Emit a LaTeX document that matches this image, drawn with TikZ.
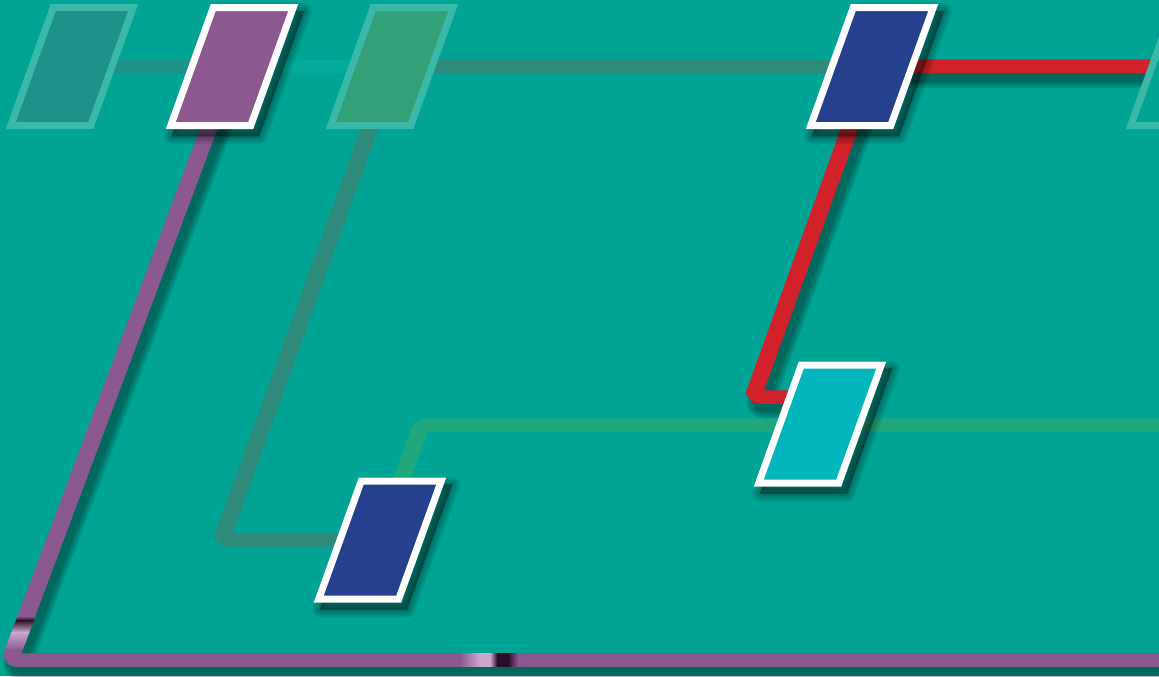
\documentclass[tikz,border=0pt]{standalone}
\usepackage{tikz}
\usetikzlibrary{backgrounds}
\definecolor{seaTeal}{RGB}{0,164,148}
\definecolor{ghostRim}{RGB}{59,185,168}
\definecolor{ghostTeal}{RGB}{30,146,138}
\definecolor{ghostGreen}{RGB}{51,160,121}
\definecolor{plum}{RGB}{139,89,143}
\definecolor{plumLight}{RGB}{204,168,208}
\definecolor{plumDark}{RGB}{40,14,38}
\definecolor{navy}{RGB}{38,64,142}
\definecolor{aqua}{RGB}{0,181,188}
\definecolor{signalR}{RGB}{209,34,43}
\definecolor{leafG}{RGB}{31,167,125}
\definecolor{slateG}{RGB}{46,138,122}
\definecolor{paleTeal}{RGB}{6,170,156}

\begin{document}
\begin{tikzpicture}[x=0.5pt, y=-0.5pt,
  route/.style={line width=6.75pt, rounded corners=3pt},
  rise/.style={line width=8.25pt},
  tubeshade/.style={black, opacity=0.1, rounded corners=3pt,
                    transform canvas={xshift=3pt, yshift=-3.5pt}},
  cardshade/.style={black, fill=black, opacity=0.08, line join=round,
                    transform canvas={xshift=3pt, yshift=-3.5pt}},
  card/.style={rectangle, xslant=0.36, minimum width=40pt, minimum height=59pt,
               inner sep=0pt, line width=3.5pt},
  live/.style={card, draw=white},
  ghost/.style={card, draw=ghostRim}]
  \useasboundingbox (0,0) rectangle (1159,676);
  \clip (0,0) rectangle (1159,676);

  % top row
  \node[ghost, fill=ghostTeal] (gh1) at (72,66.5) {};
  \node[live, fill=plum] (pl) at (232,66.5) {};
  \node[ghost, fill=ghostGreen] (gh2) at (392,66.5) {};
  \node[live, fill=navy] (nv1) at (872,66.5) {};
  \node[ghost, fill=seaTeal] (gh3) at (1192,66.5) {};
  % lower cards
  \node[live, fill=aqua] (aq) at (820,424) {};
  \node[live, fill=navy] (nv2) at (380,540) {};

  % bends and free ends
  \coordinate (plBend) at (10,660);
  \coordinate (plEnd) at (1180,660);
  \coordinate (slBend) at (221.5,540);
  \coordinate (lfBend) at (421.4,425);
  \coordinate (lfEnd) at (1180,425);
  \coordinate (rdBend) at (753,397);

  \begin{scope}[on background layer]
    \fill[seaTeal] (0,0) rectangle (1159,676);
    \draw[route, ghostTeal] (gh1.center) -- (pl.center);
    \draw[route, paleTeal] (pl.center) -- (gh2.center);
    \draw[route, slateG] (gh2.center) -- (nv1.center);
    \draw[route, slateG] (gh2.center) -- (slBend) -- (nv2.center);
    \draw[rise, slateG] (gh2.center) -- (slBend);
    \draw[route, leafG] (nv2.center) -- (lfBend) -- (lfEnd);
    \draw[rise, leafG] (nv2.center) -- (lfBend);
    % soft shadows under the bright routes
    \foreach \w in {8.5pt,10.5pt,12.5pt,14.5pt} {
      \draw[tubeshade, line width=\w] (pl.center) -- (plBend) -- (plEnd);
      \draw[tubeshade, line width=\w] (gh3.center) -- (nv1.center) -- (rdBend) -- (rdBend -| aq.center);
    }
    \draw[route, plum] (pl.center) -- (plBend) -- (plEnd);
    \draw[rise, plum] (pl.center) -- (plBend);
    \draw[route, signalR] (gh3.center) -- (nv1.center) -- (rdBend) -- (rdBend -| aq.center);
    \draw[rise, signalR] (nv1.center) -- (rdBend);
    % glints on the purple tube
    \shade[top color=plum, bottom color=plumDark] (17.5,616) -- (35.5,616) -- (34,620.3) -- (16,620.3) -- cycle;
    \shade[top color=plumDark, bottom color=plumLight] (16,620) -- (34,620) -- (29.5,632.3) -- (11.5,632.3) -- cycle;
    \shade[top color=plumLight, bottom color=plum] (11.5,632) -- (29.5,632) -- (22.8,650) -- (4.8,650) -- cycle;
    \shade[left color=plum, right color=plumLight] (460,653.25) rectangle (480.3,666.75);
    \fill[plumLight] (480,653.25) rectangle (490.3,666.75);
    \shade[left color=plumLight, right color=plumDark] (490,653.25) rectangle (497.3,666.75);
    \fill[plumDark] (497,653.25) rectangle (508.3,666.75);
    \shade[left color=plumDark, right color=plum] (508,653.25) rectangle (518,666.75);
    % soft shadows under the white cards
    \foreach \n in {pl,nv1,aq,nv2}
      \foreach \w in {0pt,2pt,4pt,6pt,8pt}
        \filldraw[cardshade, line width=\w] (\n.north west) -- (\n.north east)
          -- (\n.south east) -- (\n.south west) -- cycle;
  \end{scope}
\end{tikzpicture}
\end{document}
